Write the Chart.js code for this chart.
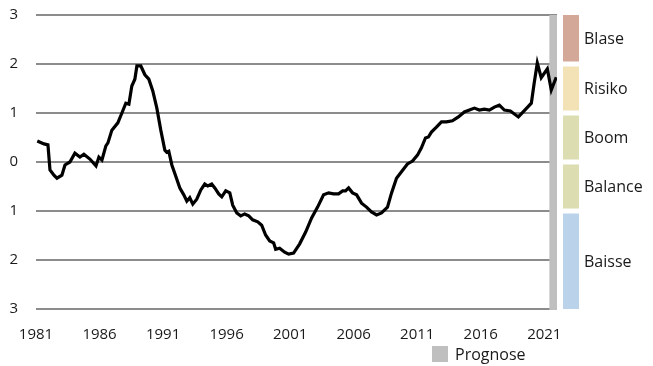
<!DOCTYPE html>
<html>
<head>
<meta charset="utf-8">
<script src="https://cdn.jsdelivr.net/npm/chart.js@4/dist/chart.umd.min.js"></script>
<style>
	html, body { margin: 0; padding: 0; background: #fff; }
	#wrap { width: 653px; height: 366px; position: relative; }
</style>
</head>
<body>
<div id="wrap"><canvas id="lineChart"></canvas></div>
<script>
(function () {
	'use strict';

	// index values, x = year (decimal)
	var years = [
		1981.1, 1981.63, 1981.94, 1982.1, 1982.41, 1982.65, 1983.04, 1983.28, 1983.67, 1984.06,
		1984.46, 1984.77, 1985.24, 1985.72, 1985.95, 1986.19, 1986.5, 1986.66, 1986.97, 1987.44,
		1987.76, 1988.07, 1988.31, 1988.54, 1988.78, 1988.94, 1989.25, 1989.57, 1989.88, 1990.19,
		1990.51, 1990.82, 1991.14, 1991.29, 1991.45, 1991.69, 1992.0, 1992.32, 1992.63, 1992.87,
		1993.1, 1993.34, 1993.65, 1993.97, 1994.28, 1994.52, 1994.83, 1995.07, 1995.38, 1995.62,
		1995.93, 1996.25, 1996.48, 1996.8, 1997.11, 1997.42, 1997.74, 1998.05, 1998.45, 1998.76,
		1999.07, 1999.39, 1999.7, 1999.86, 2000.17, 2000.57, 2000.88, 2001.27, 2001.75, 2002.22,
		2002.69, 2003.16, 2003.63, 2004.03, 2004.42, 2004.81, 2005.13, 2005.36, 2005.6, 2005.91,
		2006.23, 2006.62, 2007.01, 2007.4, 2007.8, 2008.19, 2008.66, 2008.98, 2009.37, 2009.76,
		2010.23, 2010.63, 2011.02, 2011.33, 2011.65, 2011.88, 2012.12, 2012.51, 2012.91, 2013.3,
		2013.77, 2014.24, 2014.71, 2015.11, 2015.5, 2015.89, 2016.28, 2016.68, 2017.07, 2017.46,
		2017.86, 2018.33, 2018.96, 2019.43, 2019.98, 2020.2, 2020.45, 2020.76, 2021.24, 2021.55,
		2021.94
	];
	var values = [
		0.43, 0.37, 0.35, -0.16, -0.27, -0.33, -0.27, -0.06, 0.0, 0.18,
		0.1, 0.16, 0.06, -0.08, 0.1, 0.04, 0.33, 0.39, 0.65, 0.8,
		1.0, 1.2, 1.18, 1.55, 1.69, 1.96, 1.96, 1.78, 1.69, 1.45,
		1.1, 0.65, 0.24, 0.2, 0.22, -0.06, -0.29, -0.53, -0.67, -0.8,
		-0.73, -0.86, -0.76, -0.57, -0.45, -0.49, -0.45, -0.53, -0.65, -0.71,
		-0.59, -0.63, -0.88, -1.04, -1.1, -1.06, -1.1, -1.18, -1.22, -1.29,
		-1.49, -1.61, -1.65, -1.78, -1.76, -1.84, -1.88, -1.86, -1.67, -1.43,
		-1.14, -0.92, -0.67, -0.63, -0.65, -0.65, -0.59, -0.59, -0.53, -0.63,
		-0.67, -0.84, -0.92, -1.02, -1.08, -1.04, -0.92, -0.63, -0.33, -0.2,
		-0.04, 0.02, 0.14, 0.29, 0.49, 0.51, 0.61, 0.71, 0.82, 0.82,
		0.84, 0.92, 1.02, 1.06, 1.1, 1.06, 1.08, 1.06, 1.12, 1.16,
		1.06, 1.04, 0.92, 1.05, 1.2, 1.6, 2.02, 1.72, 1.9, 1.47,
		1.73
	];

	var xTicks = [1981, 1986, 1991, 1996, 2001, 2006, 2011, 2016, 2021];
	var yTicks = [-3, -2, -1, 0, 1, 2, 3];

	// forecast span
	var forecastFrom = 2021.4;
	var forecastTo = 2022;

	// phase bands on the right
	var bandLabels = ['Blase', 'Risiko', 'Boom', 'Balance', 'Baisse'];
	var bandHigh = [3, 2, 1, 0, -1];
	var bandLow = [2, 1, 0, -1, -3];
	var bandColors = ['#d4a898', '#f2e2b6', '#dcdeb1', '#dcdeb1', '#bad3ea'];

	var FONT = '"Open Sans", "Noto Sans", sans-serif';

	var extras = {
		id: 'extras',
		beforeDatasetsDraw: function (chart) {
			var ctx = chart.ctx,
				area = chart.chartArea,
				x = chart.scales.x;
			var x0 = x.getPixelForValue(forecastFrom),
				x1 = x.getPixelForValue(forecastTo);
			ctx.save();
			ctx.fillStyle = '#bfbfbf';
			ctx.fillRect(x0, area.top, x1 - x0, area.bottom - area.top + 1);
			ctx.restore();
		},
		afterDraw: function (chart) {
			var ctx = chart.ctx,
				area = chart.chartArea,
				y = chart.scales.y;
			var bx = area.right + 6;
			ctx.save();
			ctx.font = '16px ' + FONT;
			ctx.textBaseline = 'middle';
			for (var i = 0; i < bandLabels.length; i++) {
				var top = y.getPixelForValue(bandHigh[i]),
					bottom = y.getPixelForValue(bandLow[i]);
				if (i > 0) top += 2.5;
				if (i < bandLabels.length - 1) bottom -= 2.5;
				ctx.fillStyle = bandColors[i];
				ctx.fillRect(bx, top, 16, bottom - top);
				ctx.fillStyle = '#1a1a1a';
				ctx.fillText(bandLabels[i], bx + 21, (top + bottom) / 2 + 1);
			}
			// legend
			ctx.fillStyle = '#bfbfbf';
			ctx.fillRect(432, 346, 16, 16);
			ctx.fillStyle = '#1a1a1a';
			ctx.fillText('Prognose', 455, 355);
			ctx.restore();
		}
	};

	Chart.defaults.font.family = FONT;
	Chart.defaults.color = '#1a1a1a';

	new Chart(document.getElementById('lineChart'), {
		type: 'line',
		data: {
			datasets: [{
				data: years.map(function (yr, i) { return { x: yr, y: values[i] }; }),
				borderColor: '#000',
				borderWidth: 3.2,
				pointRadius: 0,
				tension: 0,
				fill: false
			}]
		},
		options: {
			responsive: true,
			maintainAspectRatio: false,
			animation: false,
			layout: { padding: { top: 15, right: 96, left: 0, bottom: 0 } },
			plugins: {
				legend: { display: false },
				tooltip: { enabled: false }
			},
			scales: {
				x: {
					type: 'linear',
					min: 1981,
					max: 2022,
					afterBuildTicks: function (scale) {
						scale.ticks = xTicks.map(function (v) { return { value: v }; });
					},
					afterFit: function (scale) {
						scale.height = 57;
						scale.paddingLeft = 0;
						scale.paddingRight = 0;
					},
					grid: { display: false },
					border: { display: false },
					ticks: {
						font: { size: 15 },
						padding: 9,
						maxRotation: 0,
						autoSkip: false,
						callback: function (v) { return String(v); }
					}
				},
				y: {
					min: -3,
					max: 3,
					afterBuildTicks: function (scale) {
						scale.ticks = yTicks.map(function (v) { return { value: v }; });
					},
					afterFit: function (scale) {
						scale.width = 36;
						scale.paddingTop = 0;
						scale.paddingBottom = 0;
					},
					grid: { color: '#8c8c8c', lineWidth: 2, drawTicks: false },
					border: { display: false },
					ticks: {
						font: { size: 15 },
						padding: 18,
						callback: function (v) { return String(Math.abs(v)); }
					}
				}
			}
		},
		plugins: [extras]
	});
})();
</script>
</body>
</html>
